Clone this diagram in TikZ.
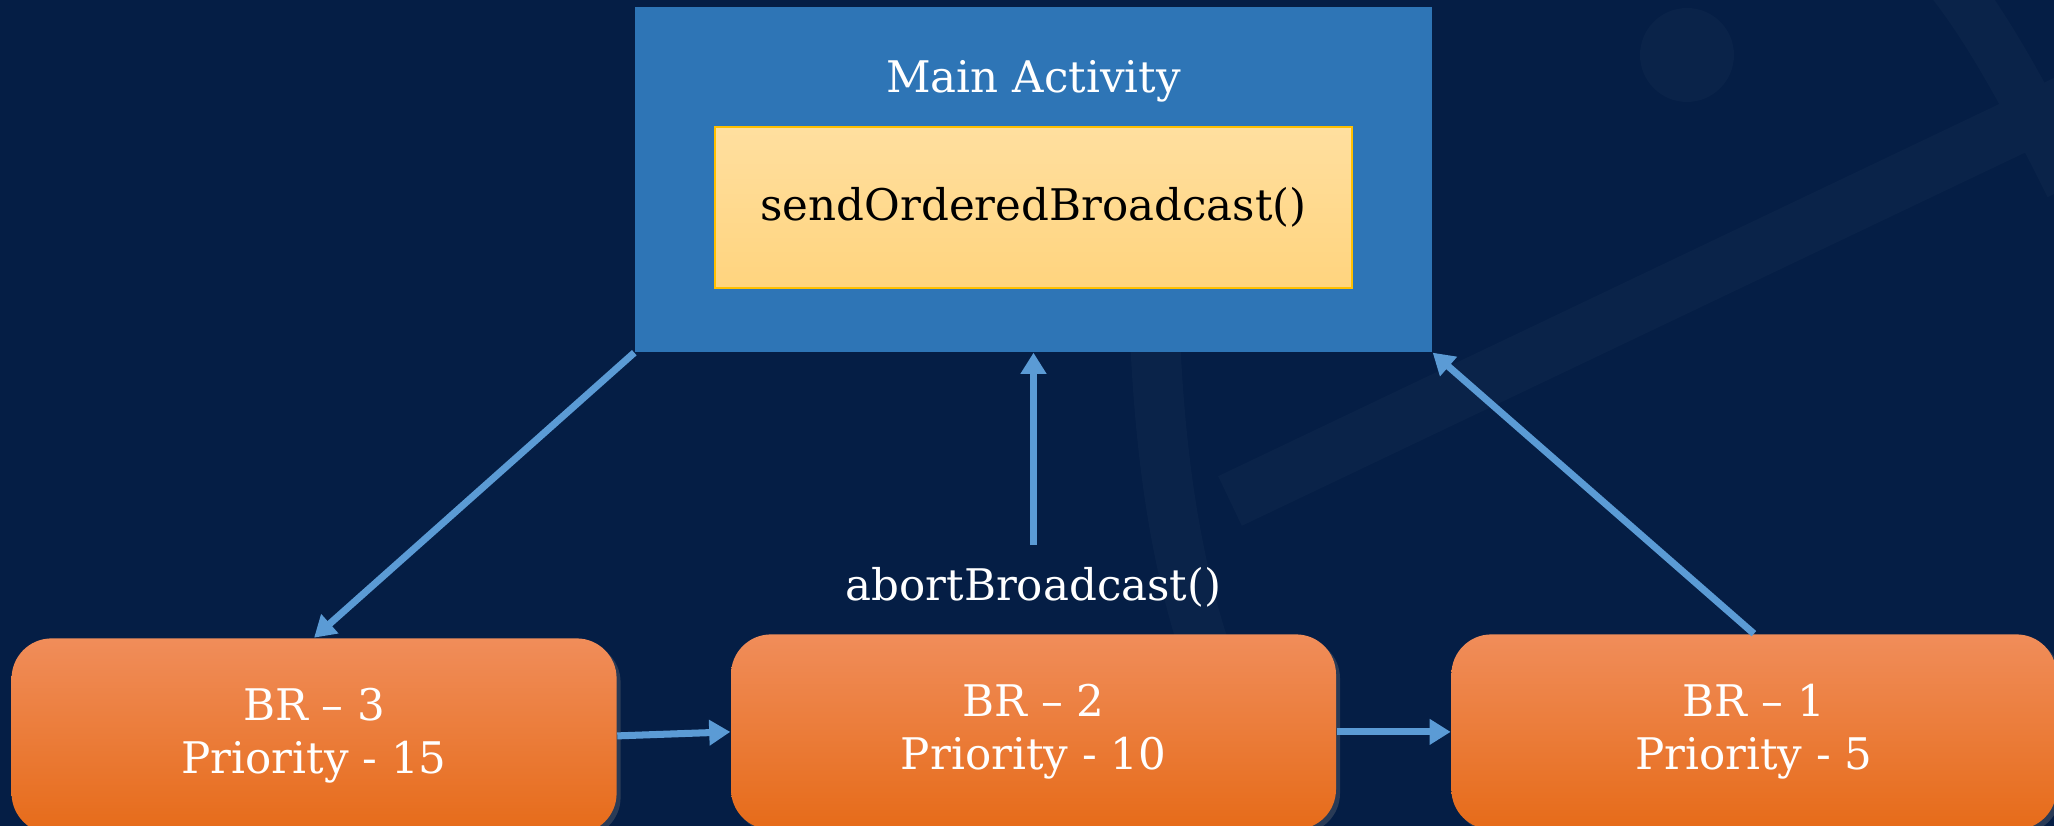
\documentclass[tikz,border=0pt]{standalone}
\usepackage{fontspec}
\setmainfont{DejaVu Serif}
\usetikzlibrary{
  arrows.meta,
  positioning,
  shadows
}
\definecolor{night}{HTML}{051E45}
\definecolor{faint}{HTML}{0A2349}
\definecolor{activity}{HTML}{2E75B6}
\definecolor{arrowblue}{HTML}{5B9BD5}
\definecolor{callline}{HTML}{FFC000}
\definecolor{calltop}{HTML}{FFDF9F}
\definecolor{callbottom}{HTML}{FFD47E}
\definecolor{brtop}{HTML}{F08D5A}
\definecolor{brmiddle}{HTML}{F47E2C}
\definecolor{brbottom}{HTML}{E66B19}
\tikzset{
%
  % For all texts.
  big text/.style={
    font=\fontsize{12.4pt}{15pt}\selectfont},
%
  % For the arrows between boxes.
  flow/.style={
    line width=2pt,
    draw=arrowblue,
    -{Triangle[length=6pt,
               width=7pt]}},
%
  % For the shapes in the background.
  backdrop/.style={
    draw=faint,
    line width=5mm},
%
  % For the activity box.
  main box/.style={
    fill=activity,
    minimum width=7.97cm,
    minimum height=3.45cm,
    inner sep=0pt},
%
  % For the box with the call in it.
  call box/.style={
    big text,
    draw=callline,
    line width=0.6pt,
    top color=calltop,
    bottom color=callbottom,
    text=black,
    minimum width=6.37cm,
    minimum height=1.61cm},
%
  % For the broadcast receivers.
  receiver box/.style={
    big text,
    rounded corners=4mm,
    top color=brtop,
    middle color=brmiddle,
    bottom color=brbottom,
    drop shadow={shadow xshift=0.4mm,
                 shadow yshift=-0.4mm,
                 opacity=0.3},
    text=white,
    align=center,
    minimum width=6.05cm,
    minimum height=1.95cm}
}

\begin{document}
\begin{tikzpicture}
  \useasboundingbox (0,0) rectangle (20.54,8.26);
  \fill[night] (0,0) rectangle (20.54,8.26);

  % background
  \fill[faint] (16.87,7.71) circle (0.47);
  \draw[backdrop, line width=5.5mm] (12.3,3.25) -- (20.8,7.3);
  \draw[backdrop] (11.55,4.9) .. controls (11.65,2.6) and (12.1,1.2) .. (12.95,-0.1);
  \draw[backdrop] (19.5,8.45) .. controls (19.9,7.95) and (20.3,7.2) .. (20.7,6.4);

  \node[main box] (ma) at (10.335,6.465) {};
  \node[big text, text=white, inner sep=0pt] (title) [below=5.3mm of ma.north] {Main Activity};
  \node[call box] (send) [below=1.2cm of ma.north] {sendOrderedBroadcast()};

  \node[receiver box] (br2) [below=2.81cm of ma] {BR -- 2\\Priority - 10};
  \node[receiver box] (br1) [right=1.14cm of br2] {BR -- 1\\Priority - 5};
  \node[receiver box] (br3) [left=1.13cm of br2, yshift=-0.4mm] {BR -- 3\\Priority - 15};
  \node[big text, text=white, inner xsep=0pt, inner ysep=6pt] (abort) [above=0.5mm of br2] {abortBroadcast()};

  \draw[flow] (ma.south west) -- (br3.north);
  \draw[flow] (br3.east) -- (br2.west);
  \draw[flow] (br2.east) -- (br1.west);
  \draw[flow] (abort) -- (ma);
  \draw[flow] (br1.north) -- (ma.south east);
\end{tikzpicture}
\end{document}
